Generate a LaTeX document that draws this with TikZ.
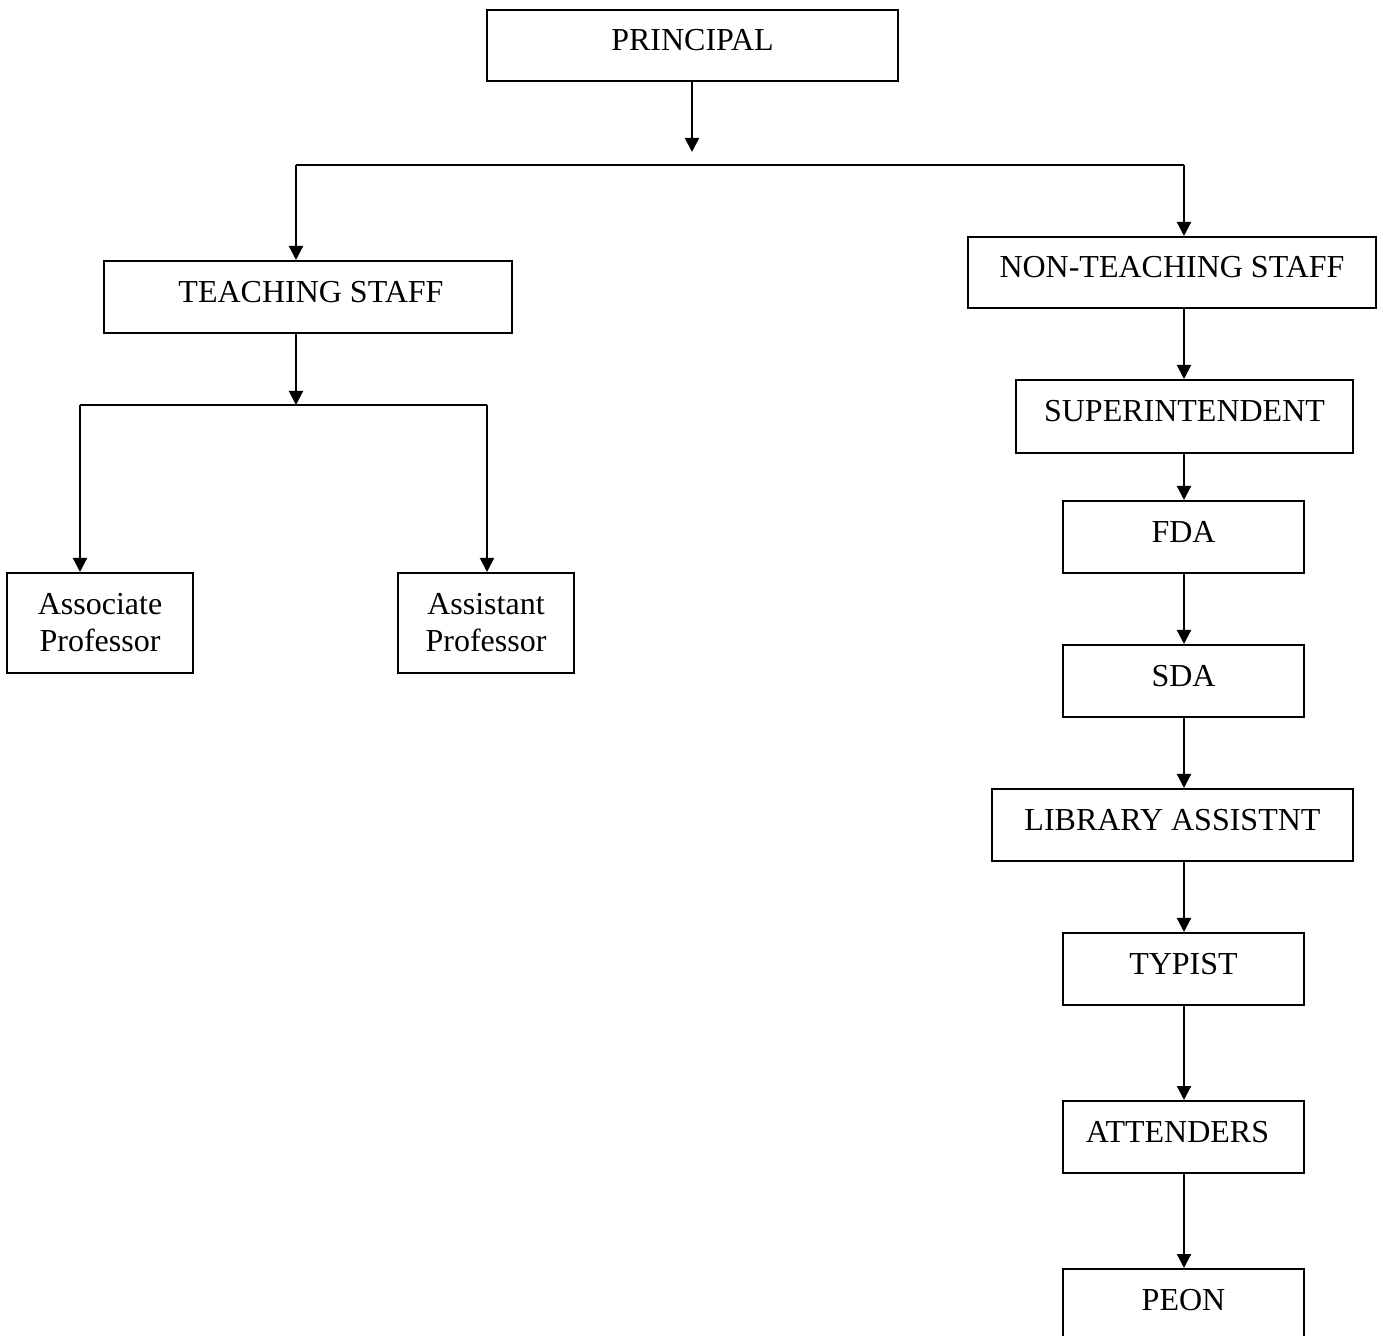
\documentclass[tikz,border=0pt]{standalone}
\usepackage{fontspec}
\setmainfont{Liberation Serif}
\usetikzlibrary{arrows.meta}

\tikzset{
    box/.style={draw, line width=1pt, inner sep=0pt, font=\fontsize{16}{18.5}\selectfont,
        text height=10.6pt, text depth=5.4pt},
    twoline/.style={draw, line width=1pt, inner sep=0pt, align=center,
        font=\fontsize{16}{18.5}\selectfont},
    arr/.style={line width=1pt, -{Triangle[length=7pt,width=7pt]}},
    link/.style={line width=1pt}
}

\begin{document}
\begin{tikzpicture}[x=0.5pt, y=-0.5pt]
    \useasboundingbox (0,0) rectangle (1383,1336);

    % Top of the chart
    \node[box, minimum width=205.5pt, minimum height=35.5pt] (principal) at (692.5,45.5) {PRINCIPAL};
    \coordinate (pgap) at (692,152);
    \coordinate (tl) at (296,165);
    \coordinate (tr) at (1184,165);

    % Teaching side
    \node[box, minimum width=204pt, minimum height=36pt] (teach) at (308,297) {\hspace*{3pt}TEACHING STAFF};
    \coordinate (tsplit) at (296,405);
    \coordinate (sl) at (80,405);
    \coordinate (sr) at (487,405);
    \node[twoline, minimum width=93pt, minimum height=50pt] (assoc) at (100,623) {Associate\\Professor};
    \node[twoline, minimum width=88pt, minimum height=50pt] (assist) at (486,623) {Assistant\\Professor};

    % Non-teaching side
    \node[box, minimum width=204pt, minimum height=35.5pt] (nonteach) at (1172,272.5) {NON-TEACHING STAFF};
    \node[box, minimum width=168.5pt, minimum height=36.5pt] (super) at (1184.5,416.5) {SUPERINTENDENT};
    \node[box, minimum width=120.5pt, minimum height=36pt] (fda) at (1183.5,537) {FDA};
    \node[box, minimum width=120.5pt, minimum height=36pt] (sda) at (1183.5,681) {SDA};
    \node[box, minimum width=180.5pt, minimum height=36pt] (lib) at (1172.5,825) {LIBRARY ASSISTNT};
    \node[box, minimum width=120.5pt, minimum height=36pt] (typist) at (1183.5,969) {TYPIST};
    \node[box, minimum width=120.5pt, minimum height=36pt] (attend) at (1183.5,1137) {ATTENDERS\hspace*{6pt}};
    \node[box, minimum width=120.5pt, minimum height=36pt] (peon) at (1183.5,1305) {PEON};

    % Connectors
    \draw[arr] (principal.south -| pgap) -- (pgap);
    \draw[link] (tl) -- (tr);
    \draw[arr] (tl) -- (tl |- teach.north);
    \draw[arr] (tr) -- (tr |- nonteach.north);

    \draw[arr] (teach.south -| tsplit) -- (tsplit);
    \draw[link] (sl) -- (sr);
    \draw[arr] (sl) -- (sl |- assoc.north);
    \draw[arr] (sr) -- (sr |- assist.north);

    \draw[arr] (nonteach.south -| tr) -- (super.north -| tr);
    \draw[arr] (super.south -| tr) -- (fda.north -| tr);
    \draw[arr] (fda.south -| tr) -- (sda.north -| tr);
    \draw[arr] (sda.south -| tr) -- (lib.north -| tr);
    \draw[arr] (lib.south -| tr) -- (typist.north -| tr);
    \draw[arr] (typist.south -| tr) -- (attend.north -| tr);
    \draw[arr] (attend.south -| tr) -- (peon.north -| tr);
\end{tikzpicture}
\end{document}
